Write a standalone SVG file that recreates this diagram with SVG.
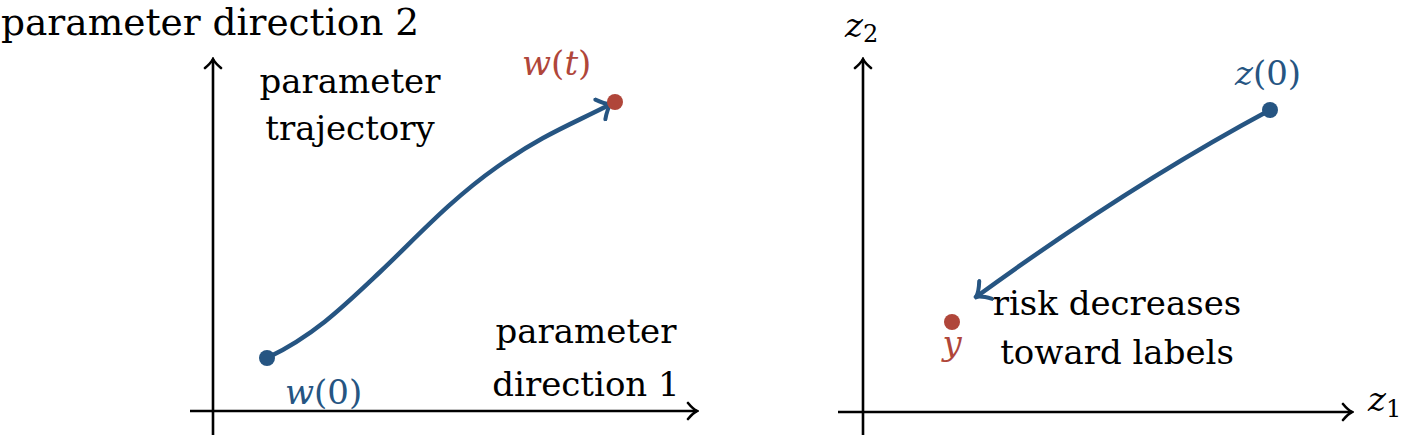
<svg xmlns="http://www.w3.org/2000/svg" width="1401" height="436" viewBox="0 0 1401 436">
<style>
.t{font-family:"DejaVu Serif","Liberation Serif",serif;font-size:34px;fill:#000}
.m{font-family:"DejaVu Serif","Liberation Serif",serif;font-size:34px}
.it{font-style:italic}
.blue{fill:#265582}
.red{fill:#b0463a}
.axis{stroke:#000;stroke-width:2.6;fill:none}
.traj{stroke:#265582;stroke-width:4.5;fill:none;stroke-linecap:round}
</style>
<defs>
<marker id="ax" markerUnits="userSpaceOnUse" viewBox="-12 -10 14 20" refX="0" refY="0" markerWidth="14" markerHeight="20" orient="auto">
<path d="M-9,-8 Q-4,-2 0,0 Q-4,2 -9,8" fill="none" stroke="#000" stroke-width="2.6" stroke-linecap="round"/>
</marker>
<marker id="bl" markerUnits="userSpaceOnUse" viewBox="-15 -13 17 26" refX="0" refY="0" markerWidth="17" markerHeight="26" orient="auto">
<path d="M-12,-11 Q-5,-2 0,0 Q-5,2 -12,11" fill="none" stroke="#265582" stroke-width="4" stroke-linecap="round"/>
</marker>
</defs>

<g id="axes">
<line class="axis" x1="213" y1="435" x2="213" y2="59" marker-end="url(#ax)"/>
<line class="axis" x1="190" y1="411" x2="697" y2="411" marker-end="url(#ax)"/>
<line class="axis" x1="863" y1="435" x2="863" y2="59" marker-end="url(#ax)"/>
<line class="axis" x1="838" y1="412" x2="1352" y2="412" marker-end="url(#ax)"/>
</g>

<g id="connectors">
<path class="traj" d="M267,358 C315,335 345,305 380,272 S450,200 497,167 S570,125 611,104" marker-end="url(#bl)"/>
<path class="traj" d="M1270,110 Q1130,185 976,297" marker-end="url(#bl)"/>
</g>

<g id="label-direction-2">
<text class="t" x="1" y="35" style="font-size:37.5px">parameter direction 2</text>
</g>
<g id="label-trajectory">
<text class="t" x="350" y="93" text-anchor="middle">parameter</text>
<text class="t" x="350" y="140" text-anchor="middle">trajectory</text>
</g>
<g id="label-direction-1">
<text class="t" x="586" y="343" text-anchor="middle">parameter</text>
<text class="t" x="586" y="396" text-anchor="middle">direction 1</text>
</g>

<g id="node-w0">
<circle cx="267" cy="358" r="8" fill="#265582"/>
<text class="m blue" x="285" y="404"><tspan class="it">w</tspan>(0)</text>
</g>
<g id="node-wt">
<circle cx="615" cy="102" r="8" fill="#b0463a"/>
<text class="m red" x="522" y="75"><tspan class="it">w</tspan>(<tspan class="it">t</tspan>)</text>
</g>

<g id="label-z2">
<text class="m" x="845" y="37"><tspan class="it">z</tspan><tspan style="font-size:24px" dy="5">2</tspan></text>
</g>
<g id="label-z1">
<text class="m" x="1368" y="411"><tspan class="it">z</tspan><tspan style="font-size:24px" dy="6">1</tspan></text>
</g>

<g id="node-z0">
<circle cx="1270" cy="110" r="8" fill="#265582"/>
<text class="m blue" x="1235" y="85"><tspan class="it">z</tspan>(0)</text>
</g>
<g id="node-y">
<circle cx="952" cy="322" r="8" fill="#b0463a"/>
<text class="m red it" x="952" y="355" text-anchor="middle">y</text>
</g>
<g id="label-risk">
<text class="t" x="1117" y="315" text-anchor="middle">risk decreases</text>
<text class="t" x="1117" y="364" text-anchor="middle">toward labels</text>
</g>
</svg>
